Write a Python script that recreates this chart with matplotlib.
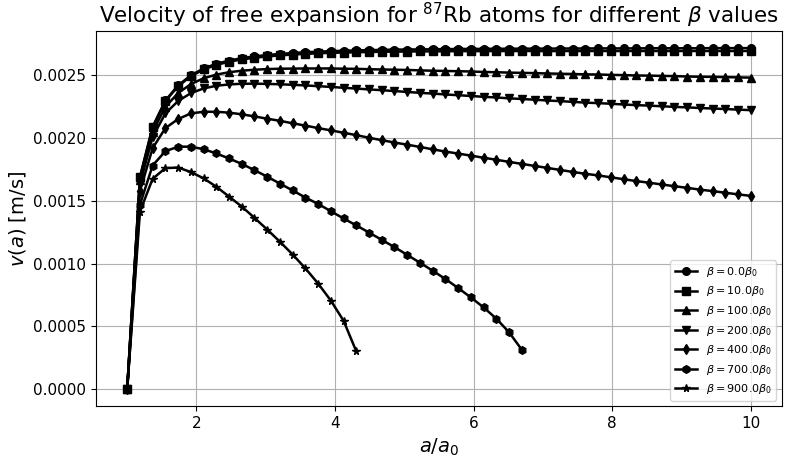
import matplotlib
matplotlib.use("Agg")
import matplotlib.pyplot as plt

# scale factor a/a0 (50 sample points)
a_vals = [1.0, 1.184, 1.367, 1.551, 1.735, 1.918, 2.102, 2.286, 2.469, 2.653,
          2.837, 3.020, 3.204, 3.388, 3.571, 3.755, 3.939, 4.122, 4.306, 4.490,
          4.673, 4.857, 5.041, 5.224, 5.408, 5.592, 5.776, 5.959, 6.143, 6.327,
          6.510, 6.694, 6.878, 7.061, 7.245, 7.429, 7.612, 7.796, 7.980, 8.163,
          8.347, 8.531, 8.714, 8.898, 9.082, 9.265, 9.449, 9.633, 9.816, 10.0]

# velocity v(a) in m/s, one list per beta
v_beta0 = [0.0, 0.00169, 0.00209, 0.00230, 0.00242, 0.00250, 0.002555, 0.002592, 0.002618, 0.002637,
           0.002651, 0.002662, 0.002671, 0.002678, 0.002684, 0.002689, 0.002693, 0.002696, 0.002699, 0.002701,
           0.002703, 0.002705, 0.002706, 0.002707, 0.002708, 0.002709, 0.002710, 0.002711, 0.002711, 0.002712,
           0.002712, 0.002713, 0.002713, 0.002713, 0.002714, 0.002714, 0.002714, 0.002715, 0.002715, 0.002715,
           0.002715, 0.002716, 0.002716, 0.002716, 0.002716, 0.002716, 0.002717, 0.002717, 0.002717, 0.002717]
v_beta10 = [0.0, 0.001687, 0.002086, 0.002295, 0.002414, 0.002493, 0.002547, 0.002583, 0.002609, 0.002627,
            0.002640, 0.002651, 0.002659, 0.002666, 0.002671, 0.002676, 0.002679, 0.002682, 0.002684, 0.002686,
            0.002688, 0.002689, 0.002690, 0.002691, 0.002691, 0.002692, 0.002693, 0.002693, 0.002693, 0.002694,
            0.002693, 0.002694, 0.002694, 0.002693, 0.002694, 0.002694, 0.002694, 0.002694, 0.002694, 0.002694,
            0.002694, 0.002694, 0.002694, 0.002694, 0.002694, 0.002694, 0.002694, 0.002694, 0.002694, 0.002694]
v_beta100 = [0.0, 0.001663, 0.002050, 0.002249, 0.002359, 0.002430, 0.002477, 0.002506, 0.002525, 0.002537,
             0.002545, 0.002550, 0.002553, 0.002554, 0.002555, 0.002555, 0.002555, 0.002553, 0.002552, 0.002549,
             0.002547, 0.002545, 0.002543, 0.002540, 0.002537, 0.002535, 0.002533, 0.002531, 0.002527, 0.002525,
             0.002522, 0.002520, 0.002518, 0.002515, 0.002513, 0.002511, 0.002508, 0.002507, 0.002504, 0.002502,
             0.002499, 0.002498, 0.002496, 0.002494, 0.002491, 0.002489, 0.002488, 0.002486, 0.002484, 0.002482]
v_beta200 = [0.0, 0.001636, 0.002009, 0.002197, 0.002296, 0.002358, 0.002396, 0.002417, 0.002428, 0.002433,
             0.002434, 0.002432, 0.002429, 0.002425, 0.002420, 0.002414, 0.002408, 0.002401, 0.002395, 0.002388,
             0.002382, 0.002375, 0.002368, 0.002361, 0.002355, 0.002348, 0.002342, 0.002336, 0.002329, 0.002324,
             0.002317, 0.002312, 0.002306, 0.002300, 0.002295, 0.002289, 0.002283, 0.002279, 0.002274, 0.002268,
             0.002263, 0.002259, 0.002254, 0.002249, 0.002245, 0.002240, 0.002236, 0.002232, 0.002227, 0.002223]
v_beta400 = [0.0, 0.00158, 0.00192, 0.00208, 0.002152, 0.002197, 0.00221, 0.00221, 0.002203, 0.00219,
             0.002173, 0.002155, 0.002138, 0.002118, 0.002100, 0.002080, 0.002062, 0.002043, 0.002024, 0.002003,
             0.001984, 0.001965, 0.001948, 0.001930, 0.001911, 0.001893, 0.001877, 0.001861, 0.001844, 0.001828,
             0.001811, 0.001795, 0.001779, 0.001763, 0.001747, 0.001731, 0.001716, 0.001703, 0.001688, 0.001673,
             0.001658, 0.001645, 0.001631, 0.001617, 0.001604, 0.001590, 0.001578, 0.001565, 0.001552, 0.001540]
v_beta700 = [0.0, 0.00147, 0.001782, 0.001896, 0.001932, 0.001932, 0.001912, 0.001878, 0.001838, 0.001795,
             0.001745, 0.001693, 0.001638, 0.001583, 0.001527, 0.001476, 0.001418, 0.001360, 0.001305, 0.001248,
             0.001190, 0.001132, 0.001070, 0.001008, 0.000944, 0.000878, 0.000806, 0.000731, 0.000652, 0.000562,
             0.000454, 0.000315]
v_beta900 = [0.0, 0.001415, 0.001676, 0.001761, 0.001766, 0.00173, 0.00168, 0.001613, 0.001535, 0.001455,
             0.001365, 0.001272, 0.001175, 0.001073, 0.000963, 0.000842, 0.000706, 0.000546, 0.000302]

betas = [0.0, 10.0, 100.0, 200.0, 400.0, 700.0, 900.0]
curves = [v_beta0, v_beta10, v_beta100, v_beta200, v_beta400, v_beta700, v_beta900]
markers = ["o", "s", "^", "v", "d", "h", "*"]

fig = plt.figure(figsize=(7.87, 4.57), dpi=100)
ax = fig.add_axes([0.122, 0.111, 0.8717, 0.821])

for beta, v, m in zip(betas, curves, markers):
    ax.plot(a_vals[:len(v)], v, color="k", marker=m, markersize=5.5, linewidth=1.8,
            label=rf"$\beta = {beta}\beta_0$")

ax.set_title(r"Velocity of free expansion for $^{87}$Rb atoms for different $\beta$ values",
             fontsize=15.5)
ax.set_xlabel(r"$a/a_0$", fontsize=14)
ax.set_ylabel(r"$v(a)$ [m/s]", fontsize=14)
ax.tick_params(labelsize=11)
ax.grid(True)
ax.legend(loc="lower right", fontsize=8)

fig.savefig("out.png", dpi=100)
